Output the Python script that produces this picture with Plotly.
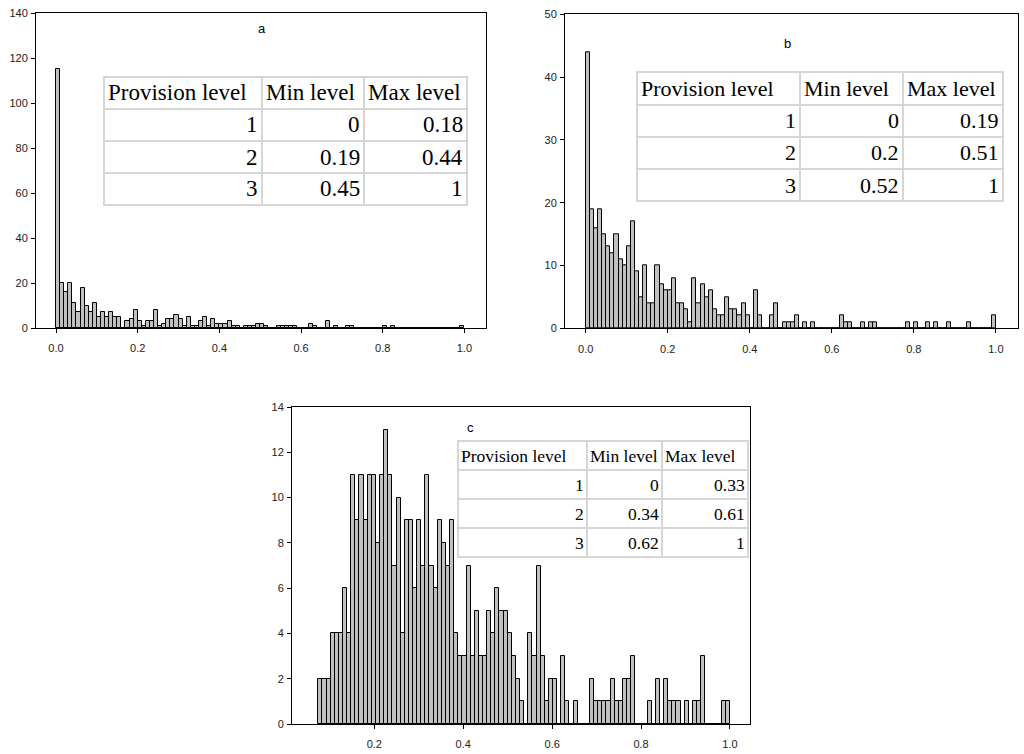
import numpy as np
import plotly.graph_objects as go

# ---------------- data ----------------
# panel a: counts per bin (100 bins of width 0.01 from 0.0 to 1.0)
counts_a = [115, 20, 16, 20, 11, 7, 18, 10, 7, 11,
            5, 7, 5, 7, 5, 5, 0, 3, 4, 8,
            3, 1, 3, 3, 8, 1, 2, 4, 4, 6,
            4, 1, 5, 1, 1, 3, 5, 1, 4, 2,
            2, 2, 3, 1, 1, 0, 1, 1, 1, 2,
            2, 1, 0, 0, 1, 1, 1, 1, 1, 0,
            0, 0, 2, 1, 0, 0, 3, 0, 1, 0,
            0, 1, 1, 0, 0, 0, 0, 0, 0, 0,
            1, 0, 1, 0, 0, 0, 0, 0, 0, 0,
            0, 0, 0, 0, 0, 0, 0, 0, 0, 1]
range_a = [0.0, 1.0]

# panel b: counts per bin (100 bins from 0.0 to 1.0)
counts_b = [44, 19, 16, 19, 15, 13, 12, 15, 11, 10,
            13, 17, 9, 5, 10, 4, 4, 10, 7, 6,
            6, 8, 4, 4, 3, 1, 8, 4, 7, 5,
            6, 3, 2, 2, 5, 3, 3, 2, 4, 2,
            0, 6, 2, 0, 0, 2, 4, 0, 1, 1,
            1, 2, 0, 1, 0, 1, 0, 0, 0, 0,
            0, 0, 2, 1, 1, 0, 0, 1, 0, 1,
            1, 0, 0, 0, 0, 0, 0, 0, 1, 0,
            1, 0, 0, 1, 0, 1, 0, 0, 1, 0,
            0, 0, 0, 1, 0, 0, 0, 0, 0, 2]
range_b = [0.0, 1.0]

# panel c: counts per bin (100 bins from ~0.074 to 1.0)
counts_c = [2, 2, 2, 4, 4, 4, 6, 4, 11, 9,
            11, 9, 11, 11, 8, 11, 13, 11, 7, 10,
            4, 9, 9, 6, 9, 7, 11, 7, 6, 9,
            8, 7, 9, 4, 3, 3, 7, 3, 5, 3,
            3, 5, 4, 6, 5, 5, 4, 3, 2, 1,
            0, 4, 3, 7, 3, 1, 2, 2, 0, 3,
            1, 0, 1, 0, 0, 0, 2, 1, 1, 1,
            1, 2, 1, 1, 2, 2, 3, 0, 0, 0,
            1, 0, 2, 0, 2, 1, 1, 1, 0, 1,
            0, 1, 1, 3, 0, 0, 0, 0, 1, 1]
range_c = [0.074, 1.0]

# tables
table_header = ["Provision level", "Min level", "Max level"]
levels = ["1", "2", "3"]
min_a = ["0", "0.19", "0.45"]
max_a = ["0.18", "0.44", "1"]
min_b = ["0", "0.2", "0.52"]
max_b = ["0.19", "0.51", "1"]
min_c = ["0", "0.34", "0.62"]
max_c = ["0.33", "0.61", "1"]

panel_labels = ["a", "b", "c"]

# ---------------- figure ----------------
W, H = 1024, 754


def px_x(p):
    return p / W


def px_y(p):
    return 1 - p / H


def centers(rng, n):
    edges = np.linspace(rng[0], rng[1], n + 1)
    return (edges[:-1] + edges[1:]) / 2, edges[1] - edges[0]


fig = go.Figure()

bar_style = dict(marker=dict(color="#c0c0c0", line=dict(color="#000000", width=1)),
                 showlegend=False, hoverinfo="x+y")

for counts, rng, xa, ya in [(counts_a, range_a, "x", "y"),
                            (counts_b, range_b, "x2", "y2"),
                            (counts_c, range_c, "x3", "y3")]:
    xc, w = centers(rng, len(counts))
    fig.add_trace(go.Bar(x=xc, y=counts, width=w, xaxis=xa, yaxis=ya, **bar_style))

axis_common = dict(showline=True, linecolor="#000000", linewidth=1, mirror=True,
                   ticks="outside", ticklen=4, tickcolor="#000000", showgrid=False,
                   zeroline=False, automargin=False,
                   tickfont=dict(family="Liberation Sans, Arial", size=11, color="#222222"))
xstand = dict(ticklabelstandoff=6)
ystand = dict(ticklabelstandoff=1)

fig.update_layout(
    template="none",
    width=W, height=H,
    margin=dict(l=0, r=0, t=0, b=0, autoexpand=False),
    paper_bgcolor="white", plot_bgcolor="white",
    bargap=0,
    xaxis=dict(domain=[px_x(36), px_x(486)], range=[-0.049, 1.053], tickvals=[0, 0.2, 0.4, 0.6, 0.8, 1.0],
               tickformat=".1f", anchor="y", **axis_common, **xstand),
    yaxis=dict(domain=[px_y(328), px_y(13)], range=[0, 140], tickvals=list(range(0, 141, 20)),
               anchor="x", **axis_common, **ystand),
    xaxis2=dict(domain=[px_x(565), px_x(1018)], range=[-0.0505, 1.054], tickvals=[0, 0.2, 0.4, 0.6, 0.8, 1.0],
                tickformat=".1f", anchor="y2", **axis_common, **xstand),
    yaxis2=dict(domain=[px_y(328.3), px_y(14.3)], range=[0, 50], tickvals=list(range(0, 51, 10)),
                anchor="x2", **axis_common, **ystand),
    xaxis3=dict(domain=[px_x(292), px_x(750)], range=[0.0148, 1.045], tickvals=[0.2, 0.4, 0.6, 0.8, 1.0],
                tickformat=".1f", anchor="y3", **axis_common, **xstand),
    yaxis3=dict(domain=[px_y(724), px_y(407)], range=[0, 14], tickvals=list(range(0, 15, 2)),
                anchor="x3", **axis_common, **ystand),
)

# panel letters
for lab, (lx, ly) in zip(panel_labels, [(262, 28), (787, 44), (470, 428)]):
    fig.add_annotation(text=lab, x=px_x(lx), y=px_y(ly), xref="paper", yref="paper",
                       xanchor="center", yanchor="middle",
                       showarrow=False, font=dict(family="Liberation Sans, Arial", size=13, color="#000"))


def add_table(cols, rows, mins, maxs, fsize, pad):
    # white background above the bars
    fig.add_shape(type="rect", xref="paper", yref="paper", layer="above",
                  x0=px_x(cols[0]), x1=px_x(cols[-1]), y0=px_y(rows[-1]), y1=px_y(rows[0]),
                  fillcolor="white", line=dict(color="#d6d6d6", width=2))
    for r in rows[1:-1]:
        fig.add_shape(type="line", xref="paper", yref="paper", layer="above",
                      x0=px_x(cols[0]), x1=px_x(cols[-1]), y0=px_y(r), y1=px_y(r),
                      line=dict(color="#d6d6d6", width=2))
    for c in cols[1:-1]:
        fig.add_shape(type="line", xref="paper", yref="paper", layer="above",
                      x0=px_x(c), x1=px_x(c), y0=px_y(rows[-1]), y1=px_y(rows[0]),
                      line=dict(color="#d6d6d6", width=2))
    font = dict(family="Liberation Serif, Times New Roman", size=fsize, color="#000")
    # header, left aligned
    ymid = (rows[0] + rows[1]) / 2
    for j, txt in enumerate(table_header):
        fig.add_annotation(text=txt, x=px_x(cols[j] + pad), y=px_y(ymid), xref="paper", yref="paper",
                           xanchor="left", yanchor="middle", showarrow=False, font=font)
    # body, right aligned
    body = [levels, mins, maxs]
    for i in range(3):
        ymid = (rows[i + 1] + rows[i + 2]) / 2
        for j in range(3):
            fig.add_annotation(text=body[j][i], x=px_x(cols[j + 1] - pad), y=px_y(ymid),
                               xref="paper", yref="paper", xanchor="right", yanchor="middle",
                               showarrow=False, font=font)


add_table([104, 262, 364, 467], [77, 109, 141, 173, 205], min_a, max_a, 23, 2)
add_table([637, 800, 903, 1003], [72, 105, 137, 169, 201], min_b, max_b, 22, 2)
add_table([458, 587, 662, 748], [441, 470, 499, 528, 557], min_c, max_c, 17.5, 1)

fig.write_html("out.html", config={"displayModeBar": False},
               post_script="document.body.style.margin='0px';")
